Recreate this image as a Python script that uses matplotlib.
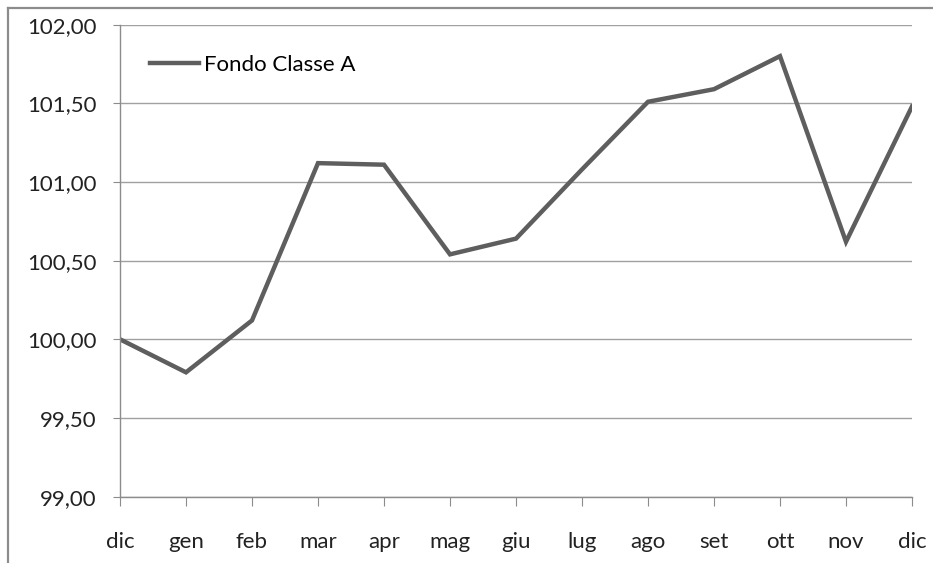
import matplotlib.pyplot as plt
from matplotlib.lines import Line2D

# data
mesi = ['dic', 'gen', 'feb', 'mar', 'apr', 'mag', 'giu', 'lug', 'ago', 'set', 'ott', 'nov', 'dic']
fondo_a = [100.00, 99.79, 100.12, 101.12, 101.11, 100.54, 100.64, 101.08, 101.51, 101.59, 101.80, 100.62, 101.48]
y_ticks = [99.0, 99.5, 100.0, 100.5, 101.0, 101.5, 102.0]

plt.rcParams['font.family'] = ['Lato', 'DejaVu Sans']
grigio = '#8c8c8c'

fig = plt.figure(figsize=(9.33, 5.63), dpi=100)
ax = fig.add_axes([120 / 933, 1 - 496.6 / 563, (912 - 120) / 933, (496.6 - 24.7) / 563])

x = list(range(len(mesi)))
ax.plot(x, fondo_a, color='#5e5e5e', lw=3.2, solid_joinstyle='miter', label='Fondo Classe A')

ax.set_xlim(0, len(mesi) - 1)
ax.set_ylim(99, 102)
ax.set_xticks(x)
ax.set_xticklabels(mesi)
ax.set_yticks(y_ticks)
ax.set_yticklabels([('%.2f' % v).replace('.', ',') for v in y_ticks])
ax.yaxis.grid(True, color='#a0a0a0', lw=1)
ax.set_axisbelow(True)

for s in ['top', 'right']:
    ax.spines[s].set_visible(False)
for s in ['left', 'bottom']:
    ax.spines[s].set_color(grigio)
    ax.spines[s].set_linewidth(1)

ax.tick_params(axis='x', length=6.5, color=grigio, pad=19, labelsize=16, labelcolor='#222222')
ax.tick_params(axis='y', length=5, color=grigio, pad=12, labelsize=16, labelcolor='#222222')

ax.legend(loc='upper left', bbox_to_anchor=(150 / 933, 1 - 55 / 563), bbox_transform=fig.transFigure,
          frameon=False, fontsize=16, handlelength=2.2, handletextpad=0.25, borderaxespad=0, borderpad=0)

# outer frame of the picture (left and top only)
fig.add_artist(Line2D([8 / 933, 8 / 933], [0, 1 - 8 / 563], color=grigio, lw=1.6))
fig.add_artist(Line2D([8 / 933, 1], [1 - 8 / 563, 1 - 8 / 563], color=grigio, lw=1.6))

fig.savefig('out.png', dpi=100)
